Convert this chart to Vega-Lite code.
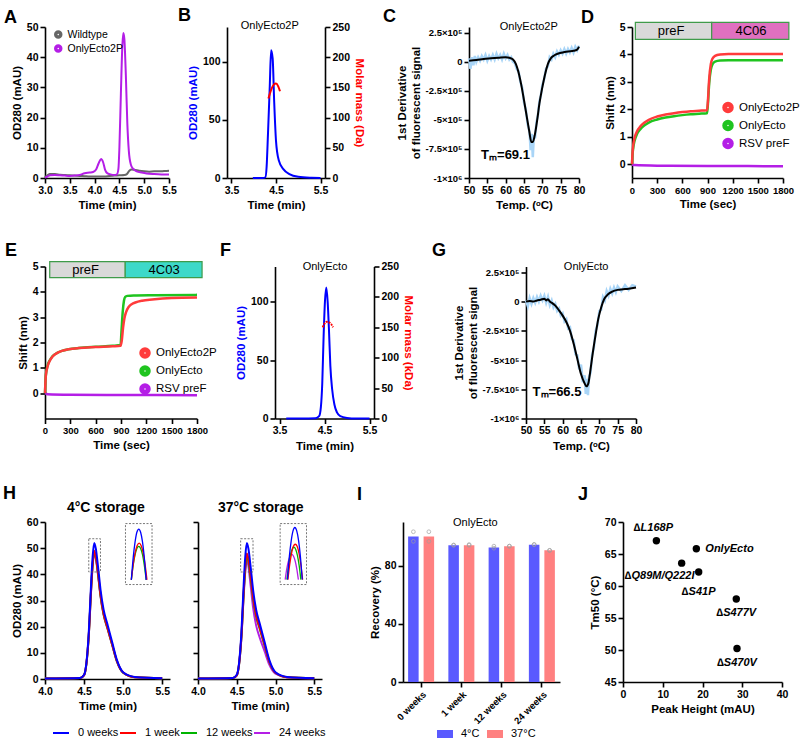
{
"$schema":"https://vega.github.io/schema/vega-lite/v6.json",
"padding":{"left":3,"top":7,"right":5,"bottom":2},
"config":{
 "font":"Liberation Sans",
 "view":{"stroke":null},
 "axis":{"grid":false,"domainColor":"#000","domainWidth":1.6,"tickColor":"#000","tickWidth":1.6,"tickSize":5,"labelFontSize":10.5,"labelFontWeight":"bold","labelColor":"#000","titleFontSize":11.5,"titleFontWeight":"bold","titleColor":"#000","labelPadding":2,"titlePadding":4,"labelFlush":false,"labelOverlap":false},
 "title":{"fontSize":18,"fontWeight":"bold","anchor":"start","frame":"group","color":"#000","baseline":"alphabetic"},
 "legend":{"labelFontSize":11,"labelColor":"#000","title":null,"padding":0}
},
"datasets":{
 "a":[
  {"s":"Wildtype","t":3.0,"v":0.3},{"s":"Wildtype","t":3.05,"v":0.9},{"s":"Wildtype","t":3.1,"v":1.3},{"s":"Wildtype","t":3.2,"v":1.3},{"s":"Wildtype","t":3.3,"v":1.1},{"s":"Wildtype","t":3.4,"v":1.0},{"s":"Wildtype","t":3.5,"v":0.9},{"s":"Wildtype","t":3.6,"v":0.8},{"s":"Wildtype","t":3.7,"v":0.7},{"s":"Wildtype","t":3.8,"v":0.6},{"s":"Wildtype","t":3.9,"v":0.5},{"s":"Wildtype","t":4.0,"v":0.5},{"s":"Wildtype","t":4.1,"v":0.5},{"s":"Wildtype","t":4.2,"v":0.5},{"s":"Wildtype","t":4.3,"v":0.7},{"s":"Wildtype","t":4.4,"v":0.8},{"s":"Wildtype","t":4.5,"v":0.9},{"s":"Wildtype","t":4.6,"v":1.0},{"s":"Wildtype","t":4.65,"v":1.3},{"s":"Wildtype","t":4.7,"v":2.4},{"s":"Wildtype","t":4.75,"v":2.8},{"s":"Wildtype","t":4.8,"v":2.7},{"s":"Wildtype","t":4.9,"v":2.4},{"s":"Wildtype","t":5.0,"v":2.2},{"s":"Wildtype","t":5.1,"v":2.1},{"s":"Wildtype","t":5.2,"v":2.2},{"s":"Wildtype","t":5.3,"v":2.2},{"s":"Wildtype","t":5.4,"v":2.3},{"s":"Wildtype","t":5.5,"v":2.4},
  {"s":"OnlyEcto2P","t":3.0,"v":0.1},{"s":"OnlyEcto2P","t":3.05,"v":0.5},{"s":"OnlyEcto2P","t":3.1,"v":0.9},{"s":"OnlyEcto2P","t":3.2,"v":1.0},{"s":"OnlyEcto2P","t":3.3,"v":0.9},{"s":"OnlyEcto2P","t":3.4,"v":0.8},{"s":"OnlyEcto2P","t":3.5,"v":0.7},{"s":"OnlyEcto2P","t":3.6,"v":0.8},{"s":"OnlyEcto2P","t":3.7,"v":1.0},{"s":"OnlyEcto2P","t":3.8,"v":1.6},{"s":"OnlyEcto2P","t":3.9,"v":1.8},{"s":"OnlyEcto2P","t":3.97,"v":2.0},{"s":"OnlyEcto2P","t":4.03,"v":2.8},{"s":"OnlyEcto2P","t":4.08,"v":4.8},{"s":"OnlyEcto2P","t":4.13,"v":6.3},{"s":"OnlyEcto2P","t":4.17,"v":5.3},{"s":"OnlyEcto2P","t":4.21,"v":2.8},{"s":"OnlyEcto2P","t":4.26,"v":1.5},{"s":"OnlyEcto2P","t":4.32,"v":1.2},{"s":"OnlyEcto2P","t":4.4,"v":1.0},{"s":"OnlyEcto2P","t":4.45,"v":1.2},{"s":"OnlyEcto2P","t":4.48,"v":3},{"s":"OnlyEcto2P","t":4.5,"v":10},{"s":"OnlyEcto2P","t":4.53,"v":28},{"s":"OnlyEcto2P","t":4.56,"v":44},{"s":"OnlyEcto2P","t":4.58,"v":48},{"s":"OnlyEcto2P","t":4.6,"v":46},{"s":"OnlyEcto2P","t":4.63,"v":34},{"s":"OnlyEcto2P","t":4.66,"v":18},{"s":"OnlyEcto2P","t":4.69,"v":9},{"s":"OnlyEcto2P","t":4.73,"v":4.5},{"s":"OnlyEcto2P","t":4.78,"v":3},{"s":"OnlyEcto2P","t":4.85,"v":2.2},{"s":"OnlyEcto2P","t":4.95,"v":1.8},{"s":"OnlyEcto2P","t":5.05,"v":1.5},{"s":"OnlyEcto2P","t":5.2,"v":1.3},{"s":"OnlyEcto2P","t":5.35,"v":1.2},{"s":"OnlyEcto2P","t":5.5,"v":1.2}
 ],
 "bBlue":[{"t":3.98,"v":0},{"t":4.2,"v":0},{"t":4.26,"v":0.5},{"t":4.29,"v":10},{"t":4.32,"v":38},{"t":4.36,"v":79},{"t":4.39,"v":110},{"t":4.425,"v":103},{"t":4.46,"v":65},{"t":4.5,"v":32},{"t":4.56,"v":15.6},{"t":4.67,"v":7.4},{"t":4.8,"v":3.3},{"t":5.0,"v":1},{"t":5.3,"v":0.2},{"t":5.5,"v":0}],
 "bRed":[{"t":4.33,"m":131.6},{"t":4.39,"m":146},{"t":4.45,"m":154.6},{"t":4.5,"m":156.3},{"t":4.55,"m":151.8},{"t":4.59,"m":143.6}],
 "fBlue":[{"t":3.65,"v":0},{"t":4.0,"v":0},{"t":4.3,"v":0.3},{"t":4.38,"v":2},{"t":4.42,"v":10},{"t":4.45,"v":30},{"t":4.48,"v":70},{"t":4.51,"v":100},{"t":4.54,"v":112},{"t":4.57,"v":100},{"t":4.6,"v":75},{"t":4.63,"v":45},{"t":4.67,"v":25},{"t":4.72,"v":12},{"t":4.78,"v":5},{"t":4.85,"v":2},{"t":5.0,"v":0.5},{"t":5.2,"v":0},{"t":5.5,"v":0}],
 "fRed":[{"t":4.46,"m":150},{"t":4.5,"m":156},{"t":4.55,"m":159},{"t":4.6,"m":158},{"t":4.65,"m":155},{"t":4.69,"m":150}],
 "cBlack":[{"t":50,"v":10000},{"t":52,"v":15000},{"t":54,"v":25000},{"t":56,"v":30000},{"t":58,"v":35000},{"t":60,"v":40000},{"t":61,"v":35000},{"t":62,"v":20000},{"t":62.8,"v":-20000},{"t":63.5,"v":-90000},{"t":64.2,"v":-190000},{"t":65,"v":-330000},{"t":65.8,"v":-480000},{"t":66.5,"v":-610000},{"t":67,"v":-690000},{"t":67.4,"v":-690000},{"t":68,"v":-620000},{"t":68.6,"v":-500000},{"t":69.2,"v":-360000},{"t":70,"v":-220000},{"t":70.8,"v":-100000},{"t":71.5,"v":-20000},{"t":72.3,"v":30000},{"t":73.2,"v":55000},{"t":74.2,"v":70000},{"t":75.5,"v":80000},{"t":77,"v":90000},{"t":78.5,"v":95000},{"t":79.5,"v":105000},{"t":80,"v":130000}],
 "cBlue":[{"t":50,"v":30000},{"t":50.4,"v":-60000},{"t":50.8,"v":40000},{"t":51.2,"v":-30000},{"t":51.6,"v":50000},{"t":52,"v":0},{"t":52.5,"v":40000},{"t":53,"v":10000},{"t":53.5,"v":50000},{"t":54,"v":20000},{"t":54.5,"v":60000},{"t":55,"v":10000},{"t":55.5,"v":50000},{"t":56,"v":20000},{"t":56.5,"v":60000},{"t":57,"v":20000},{"t":57.5,"v":70000},{"t":58,"v":30000},{"t":58.5,"v":60000},{"t":59,"v":20000},{"t":59.5,"v":70000},{"t":60,"v":30000},{"t":60.5,"v":60000},{"t":61,"v":20000},{"t":61.5,"v":40000},{"t":62,"v":0},{"t":62.5,"v":-10000},{"t":63,"v":-60000},{"t":63.5,"v":-80000},{"t":64,"v":-170000},{"t":64.5,"v":-220000},{"t":65,"v":-350000},{"t":65.5,"v":-410000},{"t":66,"v":-540000},{"t":66.5,"v":-600000},{"t":66.8,"v":-760000},{"t":67.1,"v":-620000},{"t":67.4,"v":-820000},{"t":67.7,"v":-630000},{"t":68,"v":-660000},{"t":68.4,"v":-520000},{"t":68.8,"v":-460000},{"t":69.2,"v":-340000},{"t":69.6,"v":-290000},{"t":70,"v":-200000},{"t":70.5,"v":-150000},{"t":71,"v":-60000},{"t":71.5,"v":-40000},{"t":72,"v":40000},{"t":72.5,"v":20000},{"t":73,"v":70000},{"t":73.5,"v":40000},{"t":74,"v":90000},{"t":74.5,"v":60000},{"t":75,"v":100000},{"t":75.5,"v":70000},{"t":76,"v":110000},{"t":76.5,"v":70000},{"t":77,"v":110000},{"t":77.5,"v":80000},{"t":78,"v":120000},{"t":78.5,"v":80000},{"t":79,"v":130000},{"t":79.5,"v":100000},{"t":80,"v":140000}],
 "gBlack":[{"t":50,"v":0},{"t":51,"v":5000},{"t":52,"v":0},{"t":53,"v":10000},{"t":54,"v":15000},{"t":55,"v":25000},{"t":55.5,"v":10000},{"t":56,"v":20000},{"t":56.5,"v":0},{"t":57,"v":-10000},{"t":58,"v":-35000},{"t":59,"v":-75000},{"t":60,"v":-120000},{"t":61,"v":-175000},{"t":62,"v":-250000},{"t":63,"v":-360000},{"t":64,"v":-490000},{"t":65,"v":-620000},{"t":66,"v":-700000},{"t":66.5,"v":-725000},{"t":67,"v":-700000},{"t":67.6,"v":-580000},{"t":68.3,"v":-420000},{"t":69,"v":-280000},{"t":69.7,"v":-150000},{"t":70.5,"v":-50000},{"t":71.3,"v":20000},{"t":72.3,"v":60000},{"t":73.5,"v":85000},{"t":75,"v":100000},{"t":76.5,"v":105000},{"t":78,"v":110000},{"t":80,"v":120000}],
 "gBlue":[{"t":50,"v":10000},{"t":50.5,"v":-40000},{"t":51,"v":30000},{"t":51.5,"v":-20000},{"t":52,"v":30000},{"t":52.5,"v":-10000},{"t":53,"v":40000},{"t":53.5,"v":0},{"t":54,"v":50000},{"t":54.5,"v":10000},{"t":55,"v":50000},{"t":55.5,"v":-10000},{"t":56,"v":40000},{"t":56.5,"v":-30000},{"t":57,"v":10000},{"t":57.5,"v":-50000},{"t":58,"v":-20000},{"t":58.5,"v":-80000},{"t":59,"v":-60000},{"t":59.5,"v":-120000},{"t":60,"v":-100000},{"t":60.5,"v":-170000},{"t":61,"v":-150000},{"t":61.5,"v":-230000},{"t":62,"v":-220000},{"t":62.5,"v":-320000},{"t":63,"v":-330000},{"t":63.5,"v":-450000},{"t":64,"v":-460000},{"t":64.5,"v":-580000},{"t":65,"v":-540000},{"t":65.5,"v":-690000},{"t":66,"v":-630000},{"t":66.3,"v":-790000},{"t":66.6,"v":-660000},{"t":66.9,"v":-800000},{"t":67.2,"v":-640000},{"t":67.6,"v":-610000},{"t":68,"v":-460000},{"t":68.5,"v":-400000},{"t":69,"v":-250000},{"t":69.5,"v":-200000},{"t":70,"v":-80000},{"t":70.5,"v":-70000},{"t":71,"v":40000},{"t":71.5,"v":10000},{"t":72,"v":90000},{"t":72.5,"v":50000},{"t":73,"v":110000},{"t":73.5,"v":70000},{"t":74,"v":120000},{"t":74.5,"v":80000},{"t":75,"v":130000},{"t":76,"v":90000},{"t":77,"v":140000},{"t":78,"v":100000},{"t":79,"v":140000},{"t":80,"v":130000}],
 "d":[
  {"s":"RSV preF","t":0,"v":0},{"s":"RSV preF","t":30,"v":-0.03},{"s":"RSV preF","t":300,"v":-0.05},{"s":"RSV preF","t":900,"v":-0.06},{"s":"RSV preF","t":1800,"v":-0.07},
  {"s":"OnlyEcto","t":0,"v":0},{"s":"OnlyEcto","t":5,"v":0.3},{"s":"OnlyEcto","t":15,"v":0.6},{"s":"OnlyEcto","t":30,"v":0.85},{"s":"OnlyEcto","t":60,"v":1.1},{"s":"OnlyEcto","t":100,"v":1.28},{"s":"OnlyEcto","t":150,"v":1.42},{"s":"OnlyEcto","t":200,"v":1.52},{"s":"OnlyEcto","t":300,"v":1.63},{"s":"OnlyEcto","t":400,"v":1.7},{"s":"OnlyEcto","t":500,"v":1.75},{"s":"OnlyEcto","t":600,"v":1.79},{"s":"OnlyEcto","t":700,"v":1.82},{"s":"OnlyEcto","t":800,"v":1.84},{"s":"OnlyEcto","t":895,"v":1.86},{"s":"OnlyEcto","t":905,"v":2.2},{"s":"OnlyEcto","t":920,"v":2.95},{"s":"OnlyEcto","t":940,"v":3.45},{"s":"OnlyEcto","t":960,"v":3.65},{"s":"OnlyEcto","t":990,"v":3.74},{"s":"OnlyEcto","t":1050,"v":3.78},{"s":"OnlyEcto","t":1150,"v":3.79},{"s":"OnlyEcto","t":1800,"v":3.79},
  {"s":"OnlyEcto2P","t":0,"v":0},{"s":"OnlyEcto2P","t":5,"v":0.35},{"s":"OnlyEcto2P","t":15,"v":0.7},{"s":"OnlyEcto2P","t":30,"v":0.95},{"s":"OnlyEcto2P","t":60,"v":1.2},{"s":"OnlyEcto2P","t":100,"v":1.38},{"s":"OnlyEcto2P","t":150,"v":1.52},{"s":"OnlyEcto2P","t":200,"v":1.62},{"s":"OnlyEcto2P","t":300,"v":1.74},{"s":"OnlyEcto2P","t":400,"v":1.81},{"s":"OnlyEcto2P","t":500,"v":1.86},{"s":"OnlyEcto2P","t":600,"v":1.9},{"s":"OnlyEcto2P","t":700,"v":1.93},{"s":"OnlyEcto2P","t":800,"v":1.95},{"s":"OnlyEcto2P","t":895,"v":1.97},{"s":"OnlyEcto2P","t":905,"v":2.3},{"s":"OnlyEcto2P","t":920,"v":3.1},{"s":"OnlyEcto2P","t":940,"v":3.65},{"s":"OnlyEcto2P","t":960,"v":3.85},{"s":"OnlyEcto2P","t":990,"v":3.95},{"s":"OnlyEcto2P","t":1050,"v":4.0},{"s":"OnlyEcto2P","t":1150,"v":4.02},{"s":"OnlyEcto2P","t":1800,"v":4.02}
 ],
 "e":[
  {"s":"RSV preF","t":0,"v":0},{"s":"RSV preF","t":30,"v":-0.04},{"s":"RSV preF","t":300,"v":-0.06},{"s":"RSV preF","t":900,"v":-0.07},{"s":"RSV preF","t":1800,"v":-0.08},
  {"s":"OnlyEcto","t":0,"v":0},{"s":"OnlyEcto","t":10,"v":0.7},{"s":"OnlyEcto","t":30,"v":1.08},{"s":"OnlyEcto","t":60,"v":1.32},{"s":"OnlyEcto","t":90,"v":1.46},{"s":"OnlyEcto","t":150,"v":1.6},{"s":"OnlyEcto","t":200,"v":1.67},{"s":"OnlyEcto","t":280,"v":1.73},{"s":"OnlyEcto","t":400,"v":1.78},{"s":"OnlyEcto","t":600,"v":1.83},{"s":"OnlyEcto","t":800,"v":1.87},{"s":"OnlyEcto","t":895,"v":1.9},{"s":"OnlyEcto","t":905,"v":2.4},{"s":"OnlyEcto","t":920,"v":3.2},{"s":"OnlyEcto","t":935,"v":3.65},{"s":"OnlyEcto","t":950,"v":3.8},{"s":"OnlyEcto","t":975,"v":3.84},{"s":"OnlyEcto","t":1050,"v":3.86},{"s":"OnlyEcto","t":1300,"v":3.87},{"s":"OnlyEcto","t":1800,"v":3.88},
  {"s":"OnlyEcto2P","t":0,"v":0},{"s":"OnlyEcto2P","t":10,"v":0.7},{"s":"OnlyEcto2P","t":30,"v":1.05},{"s":"OnlyEcto2P","t":60,"v":1.3},{"s":"OnlyEcto2P","t":90,"v":1.45},{"s":"OnlyEcto2P","t":150,"v":1.6},{"s":"OnlyEcto2P","t":200,"v":1.67},{"s":"OnlyEcto2P","t":280,"v":1.73},{"s":"OnlyEcto2P","t":400,"v":1.78},{"s":"OnlyEcto2P","t":600,"v":1.82},{"s":"OnlyEcto2P","t":800,"v":1.85},{"s":"OnlyEcto2P","t":895,"v":1.87},{"s":"OnlyEcto2P","t":910,"v":2.1},{"s":"OnlyEcto2P","t":925,"v":2.6},{"s":"OnlyEcto2P","t":940,"v":2.95},{"s":"OnlyEcto2P","t":960,"v":3.2},{"s":"OnlyEcto2P","t":990,"v":3.4},{"s":"OnlyEcto2P","t":1030,"v":3.52},{"s":"OnlyEcto2P","t":1070,"v":3.58},{"s":"OnlyEcto2P","t":1150,"v":3.65},{"s":"OnlyEcto2P","t":1270,"v":3.7},{"s":"OnlyEcto2P","t":1500,"v":3.76},{"s":"OnlyEcto2P","t":1800,"v":3.78}
 ],
 "hCold":[
  {"s":"24 weeks","t":4.0,"v":0.2},{"s":"24 weeks","t":4.45,"v":0.4},{"s":"24 weeks","t":4.5,"v":1.4},{"s":"24 weeks","t":4.53,"v":5.8},{"s":"24 weeks","t":4.56,"v":16.3},{"s":"24 weeks","t":4.59,"v":33.6},{"s":"24 weeks","t":4.61,"v":43.2},{"s":"24 weeks","t":4.63,"v":48},{"s":"24 weeks","t":4.65,"v":46.1},{"s":"24 weeks","t":4.68,"v":39.4},{"s":"24 weeks","t":4.71,"v":31.7},{"s":"24 weeks","t":4.75,"v":24.5},{"s":"24 weeks","t":4.8,"v":19.2},{"s":"24 weeks","t":4.86,"v":13},{"s":"24 weeks","t":4.92,"v":6.7},{"s":"24 weeks","t":5.0,"v":2.4},{"s":"24 weeks","t":5.15,"v":0.7},{"s":"24 weeks","t":5.5,"v":0.3},
  {"s":"12 weeks","t":4.0,"v":0.2},{"s":"12 weeks","t":4.45,"v":0.4},{"s":"12 weeks","t":4.5,"v":1.5},{"s":"12 weeks","t":4.53,"v":5.8},{"s":"12 weeks","t":4.56,"v":16.5},{"s":"12 weeks","t":4.59,"v":34},{"s":"12 weeks","t":4.61,"v":43.7},{"s":"12 weeks","t":4.63,"v":48.5},{"s":"12 weeks","t":4.65,"v":46.6},{"s":"12 weeks","t":4.68,"v":39.8},{"s":"12 weeks","t":4.71,"v":32},{"s":"12 weeks","t":4.75,"v":24.7},{"s":"12 weeks","t":4.8,"v":19.4},{"s":"12 weeks","t":4.86,"v":13.1},{"s":"12 weeks","t":4.92,"v":6.8},{"s":"12 weeks","t":5.0,"v":2.4},{"s":"12 weeks","t":5.15,"v":0.7},{"s":"12 weeks","t":5.5,"v":0.3},
  {"s":"1 week","t":4.0,"v":0.2},{"s":"1 week","t":4.45,"v":0.4},{"s":"1 week","t":4.5,"v":1.5},{"s":"1 week","t":4.53,"v":5.9},{"s":"1 week","t":4.56,"v":16.7},{"s":"1 week","t":4.59,"v":34.3},{"s":"1 week","t":4.61,"v":44.1},{"s":"1 week","t":4.63,"v":49},{"s":"1 week","t":4.65,"v":47},{"s":"1 week","t":4.68,"v":40.2},{"s":"1 week","t":4.71,"v":32.3},{"s":"1 week","t":4.75,"v":25},{"s":"1 week","t":4.8,"v":19.6},{"s":"1 week","t":4.86,"v":13.2},{"s":"1 week","t":4.92,"v":6.9},{"s":"1 week","t":5.0,"v":2.5},{"s":"1 week","t":5.15,"v":0.7},{"s":"1 week","t":5.5,"v":0.3},
  {"s":"0 weeks","t":4.0,"v":0.2},{"s":"0 weeks","t":4.45,"v":0.4},{"s":"0 weeks","t":4.5,"v":1.6},{"s":"0 weeks","t":4.53,"v":6.2},{"s":"0 weeks","t":4.56,"v":17.7},{"s":"0 weeks","t":4.59,"v":36.4},{"s":"0 weeks","t":4.61,"v":46.8},{"s":"0 weeks","t":4.63,"v":52},{"s":"0 weeks","t":4.65,"v":49.9},{"s":"0 weeks","t":4.68,"v":42.6},{"s":"0 weeks","t":4.71,"v":34.3},{"s":"0 weeks","t":4.75,"v":26.5},{"s":"0 weeks","t":4.8,"v":20.8},{"s":"0 weeks","t":4.86,"v":14},{"s":"0 weeks","t":4.92,"v":7.3},{"s":"0 weeks","t":5.0,"v":2.6},{"s":"0 weeks","t":5.15,"v":0.8},{"s":"0 weeks","t":5.5,"v":0.3}
 ],
 "hWarm":[
  {"s":"24 weeks","t":4.0,"v":0.2},{"s":"24 weeks","t":4.45,"v":0.4},{"s":"24 weeks","t":4.5,"v":1.4},{"s":"24 weeks","t":4.53,"v":5.5},{"s":"24 weeks","t":4.56,"v":15.5},{"s":"24 weeks","t":4.59,"v":31.9},{"s":"24 weeks","t":4.61,"v":41},{"s":"24 weeks","t":4.63,"v":45.5},{"s":"24 weeks","t":4.65,"v":43.2},{"s":"24 weeks","t":4.68,"v":35.5},{"s":"24 weeks","t":4.71,"v":27.5},{"s":"24 weeks","t":4.75,"v":20.5},{"s":"24 weeks","t":4.8,"v":15.5},{"s":"24 weeks","t":4.86,"v":10.5},{"s":"24 weeks","t":4.92,"v":5.5},{"s":"24 weeks","t":5.0,"v":2},{"s":"24 weeks","t":5.15,"v":0.6},{"s":"24 weeks","t":5.5,"v":0.3},
  {"s":"12 weeks","t":4.0,"v":0.2},{"s":"12 weeks","t":4.45,"v":0.4},{"s":"12 weeks","t":4.5,"v":1.4},{"s":"12 weeks","t":4.53,"v":5.6},{"s":"12 weeks","t":4.56,"v":16},{"s":"12 weeks","t":4.59,"v":32.9},{"s":"12 weeks","t":4.61,"v":42.3},{"s":"12 weeks","t":4.63,"v":47},{"s":"12 weeks","t":4.65,"v":45.1},{"s":"12 weeks","t":4.68,"v":38.5},{"s":"12 weeks","t":4.71,"v":31},{"s":"12 weeks","t":4.75,"v":24},{"s":"12 weeks","t":4.8,"v":18.8},{"s":"12 weeks","t":4.86,"v":12.7},{"s":"12 weeks","t":4.92,"v":6.6},{"s":"12 weeks","t":5.0,"v":2.4},{"s":"12 weeks","t":5.15,"v":0.7},{"s":"12 weeks","t":5.5,"v":0.3},
  {"s":"1 week","t":4.0,"v":0.2},{"s":"1 week","t":4.45,"v":0.4},{"s":"1 week","t":4.5,"v":1.4},{"s":"1 week","t":4.53,"v":5.8},{"s":"1 week","t":4.56,"v":16.3},{"s":"1 week","t":4.59,"v":33.6},{"s":"1 week","t":4.61,"v":43.2},{"s":"1 week","t":4.63,"v":48},{"s":"1 week","t":4.65,"v":46.1},{"s":"1 week","t":4.68,"v":39.4},{"s":"1 week","t":4.71,"v":31.7},{"s":"1 week","t":4.75,"v":24.5},{"s":"1 week","t":4.8,"v":19.2},{"s":"1 week","t":4.86,"v":13},{"s":"1 week","t":4.92,"v":6.7},{"s":"1 week","t":5.0,"v":2.4},{"s":"1 week","t":5.15,"v":0.7},{"s":"1 week","t":5.5,"v":0.3},
  {"s":"0 weeks","t":4.0,"v":0.2},{"s":"0 weeks","t":4.45,"v":0.4},{"s":"0 weeks","t":4.5,"v":1.6},{"s":"0 weeks","t":4.53,"v":6.2},{"s":"0 weeks","t":4.56,"v":17.7},{"s":"0 weeks","t":4.59,"v":36.4},{"s":"0 weeks","t":4.61,"v":46.8},{"s":"0 weeks","t":4.63,"v":52},{"s":"0 weeks","t":4.65,"v":49.9},{"s":"0 weeks","t":4.68,"v":42.6},{"s":"0 weeks","t":4.71,"v":34.3},{"s":"0 weeks","t":4.75,"v":26.5},{"s":"0 weeks","t":4.8,"v":20.8},{"s":"0 weeks","t":4.86,"v":14},{"s":"0 weeks","t":4.92,"v":7.3},{"s":"0 weeks","t":5.0,"v":2.6},{"s":"0 weeks","t":5.15,"v":0.8},{"s":"0 weeks","t":5.5,"v":0.3}
 ],
 "hColdIn":[
  {"s":"12 weeks","t":5.105,"v":37.9},{"s":"12 weeks","t":5.129,"v":43.5},{"s":"12 weeks","t":5.153,"v":47.5},{"s":"12 weeks","t":5.176,"v":49.9},{"s":"12 weeks","t":5.2,"v":50.7},{"s":"12 weeks","t":5.224,"v":49.9},{"s":"12 weeks","t":5.248,"v":47.5},{"s":"12 weeks","t":5.271,"v":43.5},{"s":"12 weeks","t":5.295,"v":37.9},
  {"s":"1 week","t":5.105,"v":37.9},{"s":"1 week","t":5.13,"v":44.0},{"s":"1 week","t":5.155,"v":48.4},{"s":"1 week","t":5.18,"v":51.0},{"s":"1 week","t":5.205,"v":51.9},{"s":"1 week","t":5.23,"v":51.0},{"s":"1 week","t":5.255,"v":48.4},{"s":"1 week","t":5.28,"v":44.0},{"s":"1 week","t":5.305,"v":37.9},
  {"s":"0 weeks","t":5.105,"v":37.9},{"s":"0 weeks","t":5.129,"v":46.4},{"s":"0 weeks","t":5.153,"v":52.4},{"s":"0 weeks","t":5.176,"v":56.1},{"s":"0 weeks","t":5.2,"v":57.3},{"s":"0 weeks","t":5.224,"v":56.1},{"s":"0 weeks","t":5.248,"v":52.4},{"s":"0 weeks","t":5.271,"v":46.4},{"s":"0 weeks","t":5.295,"v":37.9}
 ],
 "hWarmIn":[
  {"s":"24 weeks","t":5.125,"v":38},{"s":"24 weeks","t":5.146,"v":42.2},{"s":"24 weeks","t":5.168,"v":45.2},{"s":"24 weeks","t":5.189,"v":47.0},{"s":"24 weeks","t":5.21,"v":47.6},{"s":"24 weeks","t":5.231,"v":47.0},{"s":"24 weeks","t":5.253,"v":45.2},{"s":"24 weeks","t":5.274,"v":42.2},{"s":"24 weeks","t":5.295,"v":38},
  {"s":"12 weeks","t":5.147,"v":38},{"s":"12 weeks","t":5.17,"v":43.4},{"s":"12 weeks","t":5.192,"v":47.3},{"s":"12 weeks","t":5.215,"v":49.6},{"s":"12 weeks","t":5.237,"v":50.4},{"s":"12 weeks","t":5.26,"v":49.6},{"s":"12 weeks","t":5.282,"v":47.3},{"s":"12 weeks","t":5.305,"v":43.4},{"s":"12 weeks","t":5.327,"v":38},
  {"s":"1 week","t":5.16,"v":38},{"s":"1 week","t":5.184,"v":43.9},{"s":"1 week","t":5.208,"v":48.1},{"s":"1 week","t":5.231,"v":50.7},{"s":"1 week","t":5.255,"v":51.5},{"s":"1 week","t":5.279,"v":50.7},{"s":"1 week","t":5.303,"v":48.1},{"s":"1 week","t":5.326,"v":43.9},{"s":"1 week","t":5.35,"v":38},
  {"s":"0 weeks","t":5.155,"v":38},{"s":"0 weeks","t":5.179,"v":46.9},{"s":"0 weeks","t":5.203,"v":52.9},{"s":"0 weeks","t":5.226,"v":56.6},{"s":"0 weeks","t":5.25,"v":57.9},{"s":"0 weeks","t":5.274,"v":56.6},{"s":"0 weeks","t":5.298,"v":52.9},{"s":"0 weeks","t":5.321,"v":46.9},{"s":"0 weeks","t":5.345,"v":38}
 ],
 "iBars":[{"w":"0 weeks","temp":"4°C","v":100},{"w":"0 weeks","temp":"37°C","v":100},{"w":"1 week","temp":"4°C","v":94.1},{"w":"1 week","temp":"37°C","v":94},{"w":"12 weeks","temp":"4°C","v":92.5},{"w":"12 weeks","temp":"37°C","v":93.3},{"w":"24 weeks","temp":"4°C","v":94.4},{"w":"24 weeks","temp":"37°C","v":90.6}],
 "iPts":[{"w":"0 weeks","temp":"4°C","v":103.3},{"w":"0 weeks","temp":"4°C","v":96.7},{"w":"0 weeks","temp":"37°C","v":103.3},{"w":"0 weeks","temp":"37°C","v":96.7},{"w":"1 week","temp":"4°C","v":94},{"w":"1 week","temp":"4°C","v":94.2},{"w":"1 week","temp":"37°C","v":94},{"w":"1 week","temp":"37°C","v":94.5},{"w":"12 weeks","temp":"4°C","v":92},{"w":"12 weeks","temp":"4°C","v":93.4},{"w":"12 weeks","temp":"37°C","v":93.4},{"w":"12 weeks","temp":"37°C","v":93.4},{"w":"24 weeks","temp":"4°C","v":94.5},{"w":"24 weeks","temp":"4°C","v":94.5},{"w":"24 weeks","temp":"37°C","v":90.5},{"w":"24 weeks","temp":"37°C","v":90.5}],
 "j":[{"name":"∆L168P","ph":8.4,"tm":67.07},{"name":"OnlyEcto","ph":18.45,"tm":65.82},{"name":"∆Q89M/Q222I","ph":14.76,"tm":63.57},{"name":"∆S41P","ph":19.04,"tm":62.2},{"name":"∆S477V","ph":28.5,"tm":57.97},{"name":"∆S470V","ph":28.68,"tm":50.23}]
},
"spacing":30.5,
"resolve":{"scale":{"color":"independent"},"legend":{"color":"independent"}},
"vconcat":[
 {"spacing":0,"bounds":"flush","resolve":{"scale":{"color":"independent"},"legend":{"color":"independent"}},"hconcat":[
  {"width":124,"height":151,
   "title":{"text":"A","dx":-41,"offset":-5},
   "data":{"name":"a"},
   "mark":{"type":"line","strokeWidth":2,"interpolate":"monotone"},
   "encoding":{
    "x":{"field":"t","type":"quantitative","scale":{"domain":[3,5.5]},"axis":{"values":[3,3.5,4,4.5,5,5.5],"format":".1f","labelOverlap":false,"title":"Time (min)"}},
    "y":{"field":"v","type":"quantitative","scale":{"domain":[0,50]},"axis":{"values":[0,10,20,30,40,50],"labelOverlap":false,"title":"OD280 (mAU)"}},
    "color":{"field":"s","type":"nominal","sort":["Wildtype","OnlyEcto2P"],"scale":{"domain":["Wildtype","OnlyEcto2P"],"range":["#666666","#b41ee6"]},"legend":{"orient":"none","legendX":8,"legendY":2,"symbolType":"circle","symbolSize":12,"symbolStrokeWidth":5,"labelFontSize":10.5,"rowPadding":3,"clipHeight":11,"labelOffset":4}}
   }},
  {"width":58,"height":1,"data":{"values":[]},"mark":"point"},
  {"width":98,"height":151,
   "title":{"text":"B","dx":-49,"offset":-5},
   "layer":[
    {"layer":[
      {"data":{"name":"bBlue"},"mark":{"type":"line","color":"#0000ff","strokeWidth":2,"interpolate":"monotone"},
       "encoding":{"x":{"field":"t","type":"quantitative","scale":{"domain":[3.5,5.5]},"axis":{"values":[3.5,4,4.5,5,5.5],"format":".1f","labelOverlap":false,"title":"Time (min)"}},
        "y":{"field":"v","type":"quantitative","scale":{"domain":[0,125]},"axis":{"values":[0,25,50,75,100,125],"labelOverlap":false,"title":"OD280 (mAU)","titleColor":"#0000ff"}}}},
      {"data":{"values":[{}]},"mark":{"type":"text","fontSize":11},"encoding":{"x":{"datum":4.36,"type":"quantitative"},"y":{"datum":130.8,"type":"quantitative"},"text":{"value":"OnlyEcto2P"}}}
    ]},
    {"data":{"name":"bRed"},"mark":{"type":"line","color":"#ff0000","strokeWidth":2,"interpolate":"monotone"},
     "encoding":{"x":{"field":"t","type":"quantitative","title":"Time (min)"},
      "y":{"field":"m","type":"quantitative","scale":{"domain":[0,250]},"axis":{"orient":"right","values":[0,50,100,150,200,250],"labelOverlap":false,"title":"Molar mass (Da)","titleColor":"#ff0000"}}}}
   ],
   "resolve":{"scale":{"y":"independent"}}},
  {"width":144,"height":1,"data":{"values":[]},"mark":"point"},
  {"width":110,"height":151,
   "title":{"text":"C","dx":-86,"offset":-5},
   "layer":[
    {"data":{"name":"cBlue"},"mark":{"type":"line","color":"#a9d5f7","strokeWidth":2.5},
     "encoding":{"x":{"field":"t","type":"quantitative","scale":{"domain":[50,80]},"axis":{"values":[50,55,60,65,70,75,80],"labelOverlap":false,"title":"Temp. (ᵒC)"}},
      "y":{"field":"v","type":"quantitative","scale":{"domain":[-1000000,250000]},"axis":{"values":[-1000000,-750000,-500000,-250000,0,250000],"labelOverlap":false,"labelFontSize":9.5,"labelExpr":"datum.value == 250000 ? '2.5×10⁵' : datum.value == 0 ? '0' : datum.value == -250000 ? '-2.5×10⁵' : datum.value == -500000 ? '-5×10⁵' : datum.value == -750000 ? '-7.5×10⁵' : '-1×10⁶'","title":["1st Derivative","of fluorescent signal"]}}}},
    {"data":{"name":"cBlack"},"mark":{"type":"line","color":"#000000","strokeWidth":2,"interpolate":"monotone"},
     "encoding":{"x":{"field":"t","type":"quantitative","axis":{"values":[50,55,60,65,70,75,80],"labelOverlap":false,"title":"Temp. (ᵒC)"}},
      "y":{"field":"v","type":"quantitative","axis":{"values":[-1000000,-750000,-500000,-250000,0,250000],"labelOverlap":false,"labelFontSize":9.5,"labelExpr":"datum.value == 250000 ? '2.5×10⁵' : datum.value == 0 ? '0' : datum.value == -250000 ? '-2.5×10⁵' : datum.value == -500000 ? '-5×10⁵' : datum.value == -750000 ? '-7.5×10⁵' : '-1×10⁶'","title":["1st Derivative","of fluorescent signal"]}}}},
    {"data":{"values":[{}]},"mark":{"type":"text","fontSize":11},"encoding":{"x":{"datum":66.3,"type":"quantitative","axis":{"values":[50,55,60,65,70,75,80],"labelOverlap":false,"title":"Temp. (ᵒC)"}},"y":{"datum":300000,"type":"quantitative","axis":{"values":[-1000000,-750000,-500000,-250000,0,250000],"labelOverlap":false,"labelFontSize":9.5,"labelExpr":"datum.value == 250000 ? '2.5×10⁵' : datum.value == 0 ? '0' : datum.value == -250000 ? '-2.5×10⁵' : datum.value == -500000 ? '-5×10⁵' : datum.value == -750000 ? '-7.5×10⁵' : '-1×10⁶'","title":["1st Derivative","of fluorescent signal"]}},"text":{"value":"OnlyEcto2P"}}},
    {"data":{"values":[{}]},"mark":{"type":"text","fontSize":13,"fontWeight":"bold","align":"left"},"encoding":{"x":{"datum":53.3,"type":"quantitative","axis":{"values":[50,55,60,65,70,75,80],"labelOverlap":false,"title":"Temp. (ᵒC)"}},"y":{"datum":-800000,"type":"quantitative","axis":{"values":[-1000000,-750000,-500000,-250000,0,250000],"labelOverlap":false,"labelFontSize":9.5,"labelExpr":"datum.value == 250000 ? '2.5×10⁵' : datum.value == 0 ? '0' : datum.value == -250000 ? '-2.5×10⁵' : datum.value == -500000 ? '-5×10⁵' : datum.value == -750000 ? '-7.5×10⁵' : '-1×10⁶'","title":["1st Derivative","of fluorescent signal"]}},"text":{"value":"Tₘ=69.1"}}}
   ]},
  {"width":53,"height":1,"data":{"values":[]},"mark":"point"},
  {"width":151,"height":151,
   "title":{"text":"D","dx":-51,"offset":-5},
   "layer":[
    {"data":{"name":"d"},"mark":{"type":"line","strokeWidth":2.5,"interpolate":"monotone"},
     "encoding":{"x":{"field":"t","type":"quantitative","scale":{"domain":[0,1800]},"axis":{"values":[0,300,600,900,1200,1500,1800],"format":"d","labelOverlap":false,"labelFontSize":9.5,"title":"Time (sec)"}},
      "y":{"field":"v","type":"quantitative","scale":{"domain":[-0.5,5]},"axis":{"values":[0,1,2,3,4,5],"labelOverlap":false,"title":"Shift (nm)"}},
      "color":{"field":"s","type":"nominal","scale":{"domain":["OnlyEcto2P","OnlyEcto","RSV preF"],"range":["#ff3b3b","#1fc41f","#b41ee6"]},"legend":{"orient":"none","legendX":90,"legendY":74,"symbolType":"circle","symbolSize":25,"symbolStrokeWidth":6.5,"labelFontSize":11.5,"rowPadding":5,"clipHeight":13,"labelOffset":5}}}},
    {"data":{"values":[{}]},"mark":{"type":"rect","fill":"#d9d9d9","stroke":"#3f9b4a","strokeWidth":1.2},"encoding":{"x":{"datum":40,"type":"quantitative","axis":{"values":[0,300,600,900,1200,1500,1800],"format":"d","labelOverlap":false,"labelFontSize":9.5,"title":"Time (sec)"}},"x2":{"datum":950},"y":{"datum":4.55,"type":"quantitative","axis":{"values":[0,1,2,3,4,5],"labelOverlap":false,"title":"Shift (nm)"}},"y2":{"datum":5.17}}},
    {"data":{"values":[{}]},"mark":{"type":"rect","fill":"#e070c0","stroke":"#3f9b4a","strokeWidth":1.2},"encoding":{"x":{"datum":950,"type":"quantitative","axis":{"values":[0,300,600,900,1200,1500,1800],"format":"d","labelOverlap":false,"labelFontSize":9.5,"title":"Time (sec)"}},"x2":{"datum":1870},"y":{"datum":4.55,"type":"quantitative","axis":{"values":[0,1,2,3,4,5],"labelOverlap":false,"title":"Shift (nm)"}},"y2":{"datum":5.17}}},
    {"data":{"values":[{}]},"mark":{"type":"text","fontSize":13},"encoding":{"x":{"datum":465,"type":"quantitative","axis":{"values":[0,300,600,900,1200,1500,1800],"format":"d","labelOverlap":false,"labelFontSize":9.5,"title":"Time (sec)"}},"y":{"datum":4.86,"type":"quantitative","axis":{"values":[0,1,2,3,4,5],"labelOverlap":false,"title":"Shift (nm)"}},"text":{"value":"preF"}}},
    {"data":{"values":[{}]},"mark":{"type":"text","fontSize":13},"encoding":{"x":{"datum":1418,"type":"quantitative","axis":{"values":[0,300,600,900,1200,1500,1800],"format":"d","labelOverlap":false,"labelFontSize":9.5,"title":"Time (sec)"}},"y":{"datum":4.86,"type":"quantitative","axis":{"values":[0,1,2,3,4,5],"labelOverlap":false,"title":"Shift (nm)"}},"text":{"value":"4C06"}}}
   ]}
 ]},
 {"spacing":0,"bounds":"flush","resolve":{"scale":{"color":"independent"},"legend":{"color":"independent"}},"hconcat":[
  {"width":152,"height":152,
   "title":{"text":"E","dx":-40,"offset":1.5},
   "layer":[
    {"data":{"name":"e"},"mark":{"type":"line","strokeWidth":2.5,"interpolate":"monotone"},
     "encoding":{"x":{"field":"t","type":"quantitative","scale":{"domain":[0,1800]},"axis":{"values":[0,300,600,900,1200,1500,1800],"format":"d","labelOverlap":false,"labelFontSize":9.5,"title":"Time (sec)"}},
      "y":{"field":"v","type":"quantitative","scale":{"domain":[-0.55,5]},"axis":{"values":[0,1,2,3,4,5],"labelOverlap":false,"title":"Shift (nm)"}},
      "color":{"field":"s","type":"nominal","scale":{"domain":["OnlyEcto2P","OnlyEcto","RSV preF"],"range":["#ff3b3b","#1fc41f","#b41ee6"]},"legend":{"orient":"none","legendX":94,"legendY":80,"symbolType":"circle","symbolSize":25,"symbolStrokeWidth":6.5,"labelFontSize":11.5,"rowPadding":5,"clipHeight":13,"labelOffset":5}}}},
    {"data":{"values":[{}]},"mark":{"type":"rect","fill":"#d9d9d9","stroke":"#3f9b4a","strokeWidth":1.2},"encoding":{"x":{"datum":56,"type":"quantitative","axis":{"values":[0,300,600,900,1200,1500,1800],"format":"d","labelOverlap":false,"labelFontSize":9.5,"title":"Time (sec)"}},"x2":{"datum":950},"y":{"datum":4.56,"type":"quantitative","axis":{"values":[0,1,2,3,4,5],"labelOverlap":false,"title":"Shift (nm)"}},"y2":{"datum":5.19}}},
    {"data":{"values":[{}]},"mark":{"type":"rect","fill":"#3dd9c9","stroke":"#3f9b4a","strokeWidth":1.2},"encoding":{"x":{"datum":950,"type":"quantitative","axis":{"values":[0,300,600,900,1200,1500,1800],"format":"d","labelOverlap":false,"labelFontSize":9.5,"title":"Time (sec)"}},"x2":{"datum":1860},"y":{"datum":4.56,"type":"quantitative","axis":{"values":[0,1,2,3,4,5],"labelOverlap":false,"title":"Shift (nm)"}},"y2":{"datum":5.19}}},
    {"data":{"values":[{}]},"mark":{"type":"text","fontSize":13},"encoding":{"x":{"datum":480,"type":"quantitative","axis":{"values":[0,300,600,900,1200,1500,1800],"format":"d","labelOverlap":false,"labelFontSize":9.5,"title":"Time (sec)"}},"y":{"datum":4.87,"type":"quantitative","axis":{"values":[0,1,2,3,4,5],"labelOverlap":false,"title":"Shift (nm)"}},"text":{"value":"preF"}}},
    {"data":{"values":[{}]},"mark":{"type":"text","fontSize":13},"encoding":{"x":{"datum":1410,"type":"quantitative","axis":{"values":[0,300,600,900,1200,1500,1800],"format":"d","labelOverlap":false,"labelFontSize":9.5,"title":"Time (sec)"}},"y":{"datum":4.87,"type":"quantitative","axis":{"values":[0,1,2,3,4,5],"labelOverlap":false,"title":"Shift (nm)"}},"text":{"value":"4C03"}}}
   ]},
  {"width":78,"height":188,"data":{"values":[]},"mark":"point"},
  {"width":99,"height":152,
   "title":{"text":"F","dx":-55,"offset":1.5},
   "layer":[
    {"layer":[
      {"data":{"name":"fBlue"},"mark":{"type":"line","color":"#0000ff","strokeWidth":2,"interpolate":"monotone"},
       "encoding":{"x":{"field":"t","type":"quantitative","scale":{"domain":[3.5,5.5]},"axis":{"values":[3.5,4,4.5,5,5.5],"format":".1f","labelOverlap":false,"title":"Time (min)"}},
        "y":{"field":"v","type":"quantitative","scale":{"domain":[0,125]},"axis":{"values":[0,25,50,75,100,125],"labelOverlap":false,"title":"OD280 (mAU)","titleColor":"#0000ff"}}}},
      {"data":{"values":[{}]},"mark":{"type":"text","fontSize":11},"encoding":{"x":{"datum":4.51,"type":"quantitative"},"y":{"datum":129.4,"type":"quantitative"},"text":{"value":"OnlyEcto"}}}
    ]},
    {"data":{"name":"fRed"},"mark":{"type":"line","color":"#ff0000","strokeWidth":2,"strokeDash":[2,1],"interpolate":"monotone"},
     "encoding":{"x":{"field":"t","type":"quantitative","title":"Time (min)"},
      "y":{"field":"m","type":"quantitative","scale":{"domain":[0,250]},"axis":{"orient":"right","values":[0,50,100,150,200,250],"labelOverlap":false,"title":"Molar mass (kDa)","titleColor":"#ff0000"}}}}
   ],
   "resolve":{"scale":{"y":"independent"}}},
  {"width":152,"height":1,"data":{"values":[]},"mark":"point"},
  {"width":110,"height":152,
   "title":{"text":"G","dx":-94,"offset":1.5},
   "layer":[
    {"data":{"name":"gBlue"},"mark":{"type":"line","color":"#a9d5f7","strokeWidth":2.5},
     "encoding":{"x":{"field":"t","type":"quantitative","scale":{"domain":[50,80]},"axis":{"values":[50,55,60,65,70,75,80],"labelOverlap":false,"title":"Temp. (ᵒC)"}},
      "y":{"field":"v","type":"quantitative","scale":{"domain":[-1000000,250000]},"axis":{"values":[-1000000,-750000,-500000,-250000,0,250000],"labelOverlap":false,"labelFontSize":9.5,"labelExpr":"datum.value == 250000 ? '2.5×10⁵' : datum.value == 0 ? '0' : datum.value == -250000 ? '-2.5×10⁵' : datum.value == -500000 ? '-5×10⁵' : datum.value == -750000 ? '-7.5×10⁵' : '-1×10⁶'","title":["1st Derivative","of fluorescent signal"]}}}},
    {"data":{"name":"gBlack"},"mark":{"type":"line","color":"#000000","strokeWidth":2,"interpolate":"monotone"},
     "encoding":{"x":{"field":"t","type":"quantitative","axis":{"values":[50,55,60,65,70,75,80],"labelOverlap":false,"title":"Temp. (ᵒC)"}},
      "y":{"field":"v","type":"quantitative","axis":{"values":[-1000000,-750000,-500000,-250000,0,250000],"labelOverlap":false,"labelFontSize":9.5,"labelExpr":"datum.value == 250000 ? '2.5×10⁵' : datum.value == 0 ? '0' : datum.value == -250000 ? '-2.5×10⁵' : datum.value == -500000 ? '-5×10⁵' : datum.value == -750000 ? '-7.5×10⁵' : '-1×10⁶'","title":["1st Derivative","of fluorescent signal"]}}}},
    {"data":{"values":[{}]},"mark":{"type":"text","fontSize":11},"encoding":{"x":{"datum":66.4,"type":"quantitative","axis":{"values":[50,55,60,65,70,75,80],"labelOverlap":false,"title":"Temp. (ᵒC)"}},"y":{"datum":294000,"type":"quantitative","axis":{"values":[-1000000,-750000,-500000,-250000,0,250000],"labelOverlap":false,"labelFontSize":9.5,"labelExpr":"datum.value == 250000 ? '2.5×10⁵' : datum.value == 0 ? '0' : datum.value == -250000 ? '-2.5×10⁵' : datum.value == -500000 ? '-5×10⁵' : datum.value == -750000 ? '-7.5×10⁵' : '-1×10⁶'","title":["1st Derivative","of fluorescent signal"]}},"text":{"value":"OnlyEcto"}}},
    {"data":{"values":[{}]},"mark":{"type":"text","fontSize":13,"fontWeight":"bold","align":"left"},"encoding":{"x":{"datum":51.8,"type":"quantitative","axis":{"values":[50,55,60,65,70,75,80],"labelOverlap":false,"title":"Temp. (ᵒC)"}},"y":{"datum":-770000,"type":"quantitative","axis":{"values":[-1000000,-750000,-500000,-250000,0,250000],"labelOverlap":false,"labelFontSize":9.5,"labelExpr":"datum.value == 250000 ? '2.5×10⁵' : datum.value == 0 ? '0' : datum.value == -250000 ? '-2.5×10⁵' : datum.value == -500000 ? '-5×10⁵' : datum.value == -750000 ? '-7.5×10⁵' : '-1×10⁶'","title":["1st Derivative","of fluorescent signal"]}},"text":{"value":"Tₘ=66.5"}}}
   ]}
 ]},
 {"spacing":0,"bounds":"flush","resolve":{"scale":{"color":"independent"},"legend":{"color":"independent"}},"hconcat":[
  {"width":125,"height":157,
   "title":{"text":"H","dx":-42,"offset":-2.5},
   "layer":[
    {"data":{"name":"hCold"},"mark":{"type":"line","strokeWidth":2,"interpolate":"monotone"},
     "encoding":{"x":{"field":"t","type":"quantitative","scale":{"domain":[4,5.5]},"axis":{"values":[4,4.5,5,5.5],"format":".1f","labelOverlap":false,"title":"Time (min)"}},
      "y":{"field":"v","type":"quantitative","scale":{"domain":[0,60]},"axis":{"values":[0,10,20,30,40,50,60],"labelOverlap":false,"title":"OD280 (mAU)"}},
      "color":{"field":"s","type":"nominal","scale":{"domain":["0 weeks","1 week","12 weeks","24 weeks"],"range":["#0000ff","#ff0000","#00b400","#b41ee6"]},"legend":null}}},
    {"data":{"values":[{}]},"mark":{"type":"rect","fill":"transparent","stroke":"#555555","strokeWidth":0.8,"strokeDash":[2,1.5]},"encoding":{"x":{"datum":4.56,"type":"quantitative","axis":{"values":[4,4.5,5,5.5],"format":".1f","labelOverlap":false,"title":"Time (min)"}},"x2":{"datum":4.71},"y":{"datum":40.9,"type":"quantitative","axis":{"values":[0,10,20,30,40,50,60],"labelOverlap":false,"title":"OD280 (mAU)"}},"y2":{"datum":53.6}}},
    {"data":{"values":[{}]},"mark":{"type":"rect","fill":"transparent","stroke":"#555555","strokeWidth":0.8,"strokeDash":[2,1.5]},"encoding":{"x":{"datum":5.03,"type":"quantitative","axis":{"values":[4,4.5,5,5.5],"format":".1f","labelOverlap":false,"title":"Time (min)"}},"x2":{"datum":5.37},"y":{"datum":36.1,"type":"quantitative","axis":{"values":[0,10,20,30,40,50,60],"labelOverlap":false,"title":"OD280 (mAU)"}},"y2":{"datum":59.4}}},
    {"data":{"name":"hColdIn"},"mark":{"type":"line","strokeWidth":1.3,"interpolate":"monotone"},
     "encoding":{"x":{"field":"t","type":"quantitative","axis":{"values":[4,4.5,5,5.5],"format":".1f","labelOverlap":false,"title":"Time (min)"}},"y":{"field":"v","type":"quantitative","axis":{"values":[0,10,20,30,40,50,60],"labelOverlap":false,"title":"OD280 (mAU)"}},
      "color":{"field":"s","type":"nominal","scale":{"domain":["0 weeks","1 week","12 weeks","24 weeks"],"range":["#0000ff","#ff0000","#00b400","#b41ee6"]},"legend":null}}},
    {"data":{"values":[{}]},"mark":{"type":"text","fontSize":14,"fontWeight":"bold"},"encoding":{"x":{"datum":4.78,"type":"quantitative","axis":{"values":[4,4.5,5,5.5],"format":".1f","labelOverlap":false,"title":"Time (min)"}},"y":{"datum":65.4,"type":"quantitative","axis":{"values":[0,10,20,30,40,50,60],"labelOverlap":false,"title":"OD280 (mAU)"}},"text":{"value":"4°C storage"}}}
   ]},
  {"width":28,"height":1,"data":{"values":[]},"mark":"point"},
  {"width":124,"height":157,
   "layer":[
    {"data":{"name":"hWarm"},"mark":{"type":"line","strokeWidth":2,"interpolate":"monotone"},
     "encoding":{"x":{"field":"t","type":"quantitative","scale":{"domain":[4,5.5]},"axis":{"values":[4,4.5,5,5.5],"format":".1f","labelOverlap":false,"title":"Time (min)"}},
      "y":{"field":"v","type":"quantitative","scale":{"domain":[0,60]},"axis":{"values":[0,10,20,30,40,50,60],"labels":false,"title":null}},
      "color":{"field":"s","type":"nominal","scale":{"domain":["0 weeks","1 week","12 weeks","24 weeks"],"range":["#0000ff","#ff0000","#00b400","#b41ee6"]},"legend":{"orient":"none","legendX":-146,"legendY":205,"direction":"horizontal","symbolType":"stroke","symbolSize":256,"symbolStrokeWidth":2,"labelFontSize":11,"columnPadding":0,"clipHeight":12,"labelOffset":8}}}},
    {"data":{"values":[{}]},"mark":{"type":"rect","fill":"transparent","stroke":"#555555","strokeWidth":0.8,"strokeDash":[2,1.5]},"encoding":{"x":{"datum":4.55,"type":"quantitative","axis":{"values":[4,4.5,5,5.5],"format":".1f","labelOverlap":false,"title":"Time (min)"}},"x2":{"datum":4.71},"y":{"datum":40.9,"type":"quantitative","axis":{"values":[0,10,20,30,40,50,60],"labels":false,"title":null}},"y2":{"datum":53.6}}},
    {"data":{"values":[{}]},"mark":{"type":"rect","fill":"transparent","stroke":"#555555","strokeWidth":0.8,"strokeDash":[2,1.5]},"encoding":{"x":{"datum":5.06,"type":"quantitative","axis":{"values":[4,4.5,5,5.5],"format":".1f","labelOverlap":false,"title":"Time (min)"}},"x2":{"datum":5.4},"y":{"datum":36.1,"type":"quantitative","axis":{"values":[0,10,20,30,40,50,60],"labels":false,"title":null}},"y2":{"datum":59.4}}},
    {"data":{"name":"hWarmIn"},"mark":{"type":"line","strokeWidth":1.3,"interpolate":"monotone"},
     "encoding":{"x":{"field":"t","type":"quantitative","axis":{"values":[4,4.5,5,5.5],"format":".1f","labelOverlap":false,"title":"Time (min)"}},"y":{"field":"v","type":"quantitative","axis":{"values":[0,10,20,30,40,50,60],"labels":false,"title":null}},
      "color":{"field":"s","type":"nominal","scale":{"domain":["0 weeks","1 week","12 weeks","24 weeks"],"range":["#0000ff","#ff0000","#00b400","#b41ee6"]}}}},
    {"data":{"values":[{}]},"mark":{"type":"text","fontSize":14,"fontWeight":"bold"},"encoding":{"x":{"datum":4.81,"type":"quantitative","axis":{"values":[4,4.5,5,5.5],"format":".1f","labelOverlap":false,"title":"Time (min)"}},"y":{"datum":65.4,"type":"quantitative","axis":{"values":[0,10,20,30,40,50,60],"labels":false,"title":null}},"text":{"value":"37°C storage"}}}
   ]},
  {"width":81,"height":1,"data":{"values":[]},"mark":"point"},
  {"width":157,"height":160,
   "title":{"text":"I","dx":-46,"offset":13},
   "layer":[
    {"data":{"name":"iBars"},"mark":{"type":"bar"},
     "encoding":{
      "x":{"field":"w","type":"nominal","sort":["0 weeks","1 week","12 weeks","24 weeks"],"scale":{"paddingInner":0.1,"paddingOuter":0},"axis":{"title":null,"labelAngle":-45,"labelFontSize":9.5,"labelOverlap":false}},
      "xOffset":{"field":"temp","type":"nominal","sort":["4°C","37°C"],"scale":{"domain":["4°C","37°C"],"paddingInner":0.32,"paddingOuter":0.33}},
      "y":{"field":"v","type":"quantitative","scale":{"domain":[0,105]},"axis":{"values":[0,20,40,60,80,100],"labelOverlap":false,"title":"Recovery (%)"}},
      "color":{"field":"temp","type":"nominal","sort":["4°C","37°C"],"scale":{"domain":["4°C","37°C"],"range":["#5a5aff","#ff8080"]},"legend":{"orient":"none","legendX":34,"legendY":206,"direction":"horizontal","symbolType":"M-1,-0.5H1V0.5H-1Z","symbolSize":256,"symbolStrokeWidth":0,"labelFontSize":11,"columnPadding":7,"clipHeight":12,"labelOffset":8}}}},
    {"data":{"name":"iPts"},"mark":{"type":"point","size":14,"color":"#a0a0a0","strokeWidth":1},
     "encoding":{"x":{"field":"w","type":"nominal","sort":["0 weeks","1 week","12 weeks","24 weeks"]},"xOffset":{"field":"temp","type":"nominal","sort":["4°C","37°C"]},"y":{"field":"v","type":"quantitative","title":"Recovery (%)"}}},
    {"data":{"values":[{}]},"mark":{"type":"text","fontSize":11,"dx":14},"encoding":{"x":{"datum":"1 week"},"y":{"datum":109,"type":"quantitative"},"text":{"value":"OnlyEcto"}}}
   ]},
  {"width":63,"height":1,"data":{"values":[]},"mark":"point"},
  {"width":159,"height":160,
   "title":{"text":"J","dx":-45,"offset":13},
   "data":{"name":"j"},
   "encoding":{"x":{"field":"ph","type":"quantitative","scale":{"domain":[0,40]},"axis":{"values":[0,10,20,30,40],"labelOverlap":false,"title":"Peak Height (mAU)"}},
    "y":{"field":"tm","type":"quantitative","scale":{"domain":[45,70]},"axis":{"values":[45,50,55,60,65,70],"labelOverlap":false,"title":"Tm50 (°C)"}}},
   "layer":[
    {"mark":{"type":"circle","size":55,"color":"#000000","opacity":1}},
    {"transform":[{"filter":"datum.name == '∆L168P'"}],"mark":{"type":"text","fontSize":11,"fontWeight":"bold","fontStyle":"italic","dy":-13,"dx":-3},"encoding":{"text":{"field":"name"}}},
    {"transform":[{"filter":"datum.name == 'OnlyEcto'"}],"mark":{"type":"text","fontSize":11,"fontWeight":"bold","fontStyle":"italic","align":"left","dx":9},"encoding":{"text":{"field":"name"}}},
    {"transform":[{"filter":"datum.name == '∆Q89M/Q222I'"}],"mark":{"type":"text","fontSize":11,"fontWeight":"bold","fontStyle":"italic","dx":-22,"dy":13},"encoding":{"text":{"field":"name"}}},
    {"transform":[{"filter":"datum.name == '∆S41P'"}],"mark":{"type":"text","fontSize":11,"fontWeight":"bold","fontStyle":"italic","dy":20},"encoding":{"text":{"field":"name"}}},
    {"transform":[{"filter":"datum.name == '∆S477V' || datum.name == '∆S470V'"}],"mark":{"type":"text","fontSize":11,"fontWeight":"bold","fontStyle":"italic","dy":14},"encoding":{"text":{"field":"name"}}}
   ]}
 ]}
]
}
